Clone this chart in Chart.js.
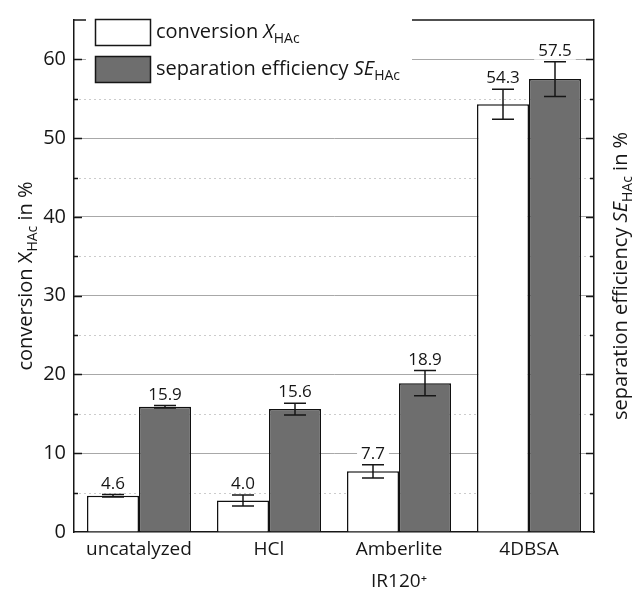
<!DOCTYPE html>
<html><head><meta charset="utf-8">
<script src="https://cdn.jsdelivr.net/npm/chart.js@4.4.0/dist/chart.umd.min.js"></script>
<style>html,body{margin:0;padding:0;background:#fff;}</style>
</head><body>
<canvas id="c" width="633" height="602" style="display:block;width:633px;height:602px"></canvas>
<script>
const categories = ['uncatalyzed', 'HCl', ['Amberlite', 'IR120\u207A'], '4DBSA'];
const conversion = [4.6, 4.0, 7.7, 54.3];
const conversionErr = [0.15, 0.7, 0.85, 1.9];
const separation = [15.9, 15.6, 18.9, 57.5];
const separationErr = [0.15, 0.75, 1.6, 2.2];
const yMin = 0, yMax = 65, yStep = 5;

const FONT = '"Open Sans", "Noto Sans", sans-serif';
const INK = '#161616';
const GREY = '#6e6e6e';

function drawRich(ctx, parts, x, y, rot, align) {
  ctx.save();
  ctx.translate(x, y);
  ctx.rotate(rot);
  ctx.textBaseline = 'alphabetic';
  ctx.textAlign = 'left';
  let total = 0;
  parts.forEach(p => { ctx.font = p.font; total += ctx.measureText(p.t).width; });
  let cx = align === 'left' ? 0 : -total / 2;
  parts.forEach(p => {
    ctx.font = p.font;
    ctx.fillStyle = INK;
    ctx.fillText(p.t, cx, p.dy || 0);
    cx += ctx.measureText(p.t).width;
  });
  ctx.restore();
}

const decorPlugin = {
  id: 'decor',
  beforeDatasetsDraw(chart) {
    const ctx = chart.ctx, y = chart.scales.y, a = chart.chartArea;
    ctx.save();
    ctx.strokeStyle = '#cccccc';
    ctx.lineWidth = 1;
    ctx.setLineDash([2, 3]);
    for (let v = yMin + 5; v < yMax; v += 10) {
      const py = Math.round(y.getPixelForValue(v)) + 0.5;
      ctx.beginPath(); ctx.moveTo(a.left, py); ctx.lineTo(a.right, py); ctx.stroke();
    }
    ctx.restore();
  },
  afterDatasetsDraw(chart) {
    const ctx = chart.ctx, ys = chart.scales.y;
    const sets = [[conversion, conversionErr], [separation, separationErr]];
    ctx.save();
    sets.forEach((s, di) => {
      const meta = chart.getDatasetMeta(di);
      meta.data.forEach((bar, i) => {
        const v = s[0][i], e = s[1][i];
        const x = bar.x;
        const hi = ys.getPixelForValue(v + e), lo = ys.getPixelForValue(v - e);
        ctx.strokeStyle = INK; ctx.lineWidth = 1.5; ctx.setLineDash([]);
        ctx.beginPath();
        ctx.moveTo(x, hi); ctx.lineTo(x, lo);
        ctx.moveTo(x - 11, hi); ctx.lineTo(x + 11, hi);
        ctx.moveTo(x - 11, lo); ctx.lineTo(x + 11, lo);
        ctx.stroke();
        const txt = v.toFixed(1);
        ctx.font = '17px ' + FONT;
        const w = ctx.measureText(txt).width;
        const base = hi - 6;
        ctx.fillStyle = '#ffffff';
        ctx.fillRect(x - w / 2 - 4, base - 15, w + 8, 19);
        ctx.fillStyle = INK;
        ctx.textAlign = 'center'; ctx.textBaseline = 'alphabetic';
        ctx.fillText(txt, x, base);
      });
    });
    ctx.restore();
  },
  afterDraw(chart) {
    const ctx = chart.ctx, a = chart.chartArea, ys = chart.scales.y;
    ctx.save();
    ctx.strokeStyle = INK; ctx.lineWidth = 1.5;
    ctx.beginPath(); ctx.moveTo(a.left, a.top); ctx.lineTo(a.right, a.top); ctx.stroke();
    for (let v = yMin + yStep; v < yMax; v += yStep) {
      const py = Math.round(ys.getPixelForValue(v)) + 0.5;
      const len = v % 10 === 0 ? 8 : 4;
      ctx.beginPath();
      ctx.moveTo(a.left, py); ctx.lineTo(a.left + len, py);
      ctx.moveTo(a.right, py); ctx.lineTo(a.right - len, py);
      ctx.stroke();
    }
    ctx.fillStyle = '#ffffff';
    ctx.fillRect(86, 14, 326, 76);
    ctx.lineWidth = 1.5; ctx.strokeStyle = INK;
    ctx.fillStyle = '#ffffff';
    ctx.fillRect(95.5, 19.5, 55, 26); ctx.strokeRect(95.5, 19.5, 55, 26);
    ctx.fillStyle = GREY;
    ctx.fillRect(95.5, 56.5, 55, 26); ctx.strokeRect(95.5, 56.5, 55, 26);
    ctx.restore();
    const f = '20px ' + FONT, fi = 'italic 20px ' + FONT, fs = '14px ' + FONT;
    drawRich(ctx, [{t: 'conversion ', font: f}, {t: 'X', font: fi}, {t: 'HAc', font: fs, dy: 5}], 156, 38, 0, 'left');
    drawRich(ctx, [{t: 'separation efficiency ', font: f}, {t: 'SE', font: fi}, {t: 'HAc', font: fs, dy: 5}], 156, 75, 0, 'left');
    drawRich(ctx, [{t: 'conversion X', font: f}, {t: 'HAc', font: fs, dy: 5}, {t: ' in %', font: f}], 32, 276, -Math.PI / 2);
    drawRich(ctx, [{t: 'separation efficiency ', font: f}, {t: 'SE', font: fi}, {t: 'HAc', font: fs, dy: 5}, {t: ' in %', font: f}], 627, 276, -Math.PI / 2);
  }
};

new Chart(document.getElementById('c'), {
  type: 'bar',
  data: {
    labels: categories,
    datasets: [
      {label: 'conversion', data: conversion, backgroundColor: '#ffffff', borderColor: '#111111', borderWidth: 1.5,
       categoryPercentage: 0.8, barPercentage: 1.0},
      {label: 'separation efficiency', data: separation, backgroundColor: GREY, borderColor: '#111111', borderWidth: 1.5,
       categoryPercentage: 0.8, barPercentage: 1.0}
    ]
  },
  options: {
    responsive: false,
    animation: false,
    devicePixelRatio: 1,
    layout: {padding: {left: 0, right: 39, top: 12, bottom: 0}},
    plugins: {legend: {display: false}, tooltip: {enabled: false}},
    scales: {
      x: {
        offset: true,
        grid: {display: false},
        border: {display: true, color: INK, width: 1.5},
        ticks: {font: {family: FONT, size: 19, lineHeight: 1.7}, color: INK, padding: -7, maxRotation: 0, autoSkip: false},
        afterFit(s) { s.height = 70; }
      },
      y: {
        min: yMin, max: yMax,
        ticks: {stepSize: yStep, autoSkip: false, font: {family: FONT, size: 20}, color: INK, padding: 8,
          callback: v => (v % 10 === 0 && v < yMax) ? String(v) : ''},
        grid: {drawTicks: false, lineWidth: 1,
          color: c => (c.tick && c.tick.value % 10 === 0 && c.tick.value > 0 && c.tick.value < yMax) ? '#a8a8a8' : 'rgba(0,0,0,0)'},
        border: {color: INK, width: 1.5},
        afterFit(s) { s.width = 74; }
      },
      y2: {
        position: 'right', min: yMin, max: yMax,
        ticks: {display: false},
        grid: {display: false},
        border: {display: true, color: INK, width: 1.5},
        afterFit(s) { s.width = 0; }
      }
    }
  },
  plugins: [decorPlugin]
});
</script>
</body></html>
